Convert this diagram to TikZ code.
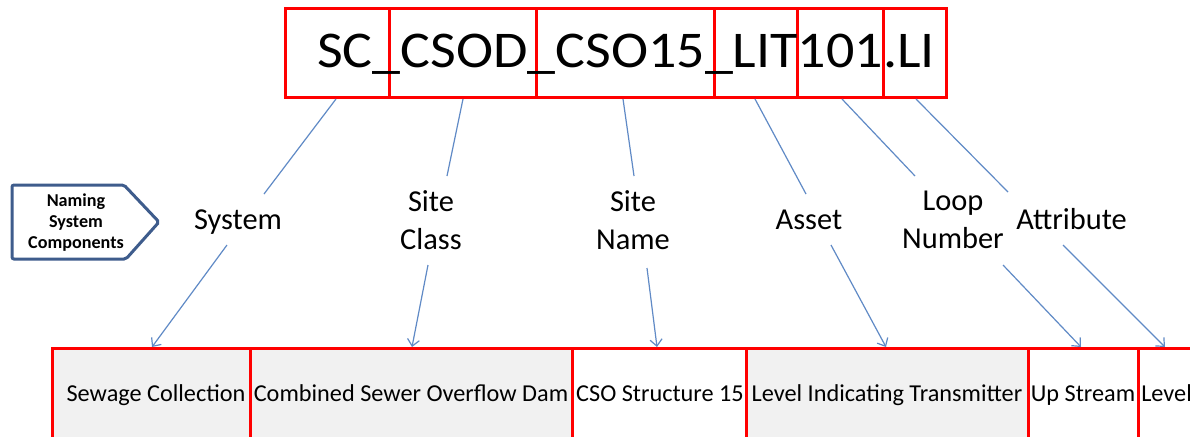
\documentclass[tikz,border=0pt]{standalone}
\usepackage{fontspec}
\setmainfont{Carlito}
\usetikzlibrary{arrows.meta,fit}
\definecolor{boxred}{RGB}{255,0,0}
\definecolor{cellgray}{RGB}{241,241,241}
\definecolor{linkblue}{RGB}{96,138,198}
\definecolor{tagblue}{RGB}{62,92,140}
\tikzset{
  seg/.style={draw=boxred, line width=2.25pt, inner sep=0pt},
  cell/.style={draw=boxred, line width=2.25pt, inner sep=0pt},
  celltext/.style={font=\fontsize{18.2}{20}\selectfont, text=black, inner sep=0pt, anchor=base},
  lbl/.style={font=\fontsize{22.8}{28.5}\selectfont, align=center, inner sep=0pt},
  link/.style={draw=linkblue, line width=0.9pt},
  arr/.style={link, -{Straight Barb[length=5pt,width=9pt,line width=0.9pt]}},
}
\begin{document}
\begin{tikzpicture}[x=0.75pt,y=-0.75pt]
\clip (0,0) rectangle (1190,436);
\fill[white] (0,0) rectangle (1190,436);

% tag name, split into its parts
\node[seg, fit={(285,8) (389,97)}] (t1) {};
\node[seg, fit={(389,8) (536,97)}] (t2) {};
\node[seg, fit={(536,8) (714,97)}] (t3) {};
\node[seg, fit={(714,8) (797,97)}] (t4) {};
\node[seg, fit={(797,8) (883,97)}] (t5) {};
\node[seg, fit={(883,8) (946,97)}] (t6) {};
\node[anchor=base west, inner sep=0pt, font=\fontsize{42}{44}\selectfont] (tag) at (317,67) {\scalebox{1}[0.92]{SC\_CSOD\_CSO15\_LIT101.LI}};

% side marker
\draw[tagblue, line width=2.25pt, rounded corners=1.5pt, fill=white]
  (12,185) -- (124,185) -- (159,222) -- (126,259) -- (12,259) -- cycle;
\node[font=\bfseries\fontsize{13.6}{15.75}\selectfont, align=center, inner sep=0pt] (nsc) at (76,223) {Naming\\System\\Components};

% component labels
\node[lbl, anchor=base] (sys) at (238,229) {System};
\node[lbl] (scl) at (431,220) {Site\\Class};
\node[lbl] (snm) at (633,220) {Site\\Name};
\node[lbl, anchor=base] (ast) at (809,229) {Asset};
\node[lbl] (lpn) at (953,220) {Loop\\Number};
\node[lbl, anchor=base west, fill=white, inner xsep=10.5pt, inner ysep=2pt] (att) at (1002,229) {Attribute};

% descriptions
\node[cell, fill=cellgray, fit={(52,348) (250,470)}] (b1) {};
\node[cell, fill=cellgray, fit={(250,348) (572,470)}] (b2) {};
\node[cell, fill=white, fit={(572,348) (746,470)}] (b3) {};
\node[cell, fill=cellgray, fit={(746,348) (1028,470)}] (b4) {};
\node[cell, fill=white, fit={(1028,348) (1138,470)}] (b5) {};
\node[cell, fill=white, fit={(1138,348) (1260,470)}] (b6) {};
\node[celltext] (d1) at (156,401) {Sewage Collection};
\node[celltext] (d2) at (411,401) {Combined Sewer Overflow Dam};
\node[celltext] (d3) at (660,401) {CSO Structure 15};
\node[celltext] (d4) at (887,401) {Level Indicating Transmitter};
\node[celltext] (d5) at (1083,401) {Up Stream};
\node[celltext, anchor=base west] (d6) at (1141,401) {Level};

% connector end points
\coordinate (u1) at (336,99);   \coordinate (v1) at (264,194);
\coordinate (u2) at (463,99);   \coordinate (v2) at (447,176);
\coordinate (u3) at (623,99);   \coordinate (v3) at (634,176);
\coordinate (u4) at (755,99);   \coordinate (v4) at (806,194);
\coordinate (u5) at (842,99);   \coordinate (v5) at (915,176);
\coordinate (u6) at (916,99);   \coordinate (v6) at (1008,192);

\coordinate (p1) at (227,245);  \coordinate (q1) at (152,347);
\coordinate (p2) at (428,265);  \coordinate (q2) at (412,347);
\coordinate (p3) at (647,268);  \coordinate (q3) at (657,347);
\coordinate (p4) at (831,245);  \coordinate (q4) at (886,347);
\coordinate (p5) at (1003,265); \coordinate (q5) at (1081,347);
\coordinate (p6) at (1063,245); \coordinate (q6) at (1165,347);

\foreach \i in {1,...,6} {
  \draw[link] (u\i) -- (v\i);
  \draw[arr] (p\i) -- (q\i);
}
\end{tikzpicture}
\end{document}
